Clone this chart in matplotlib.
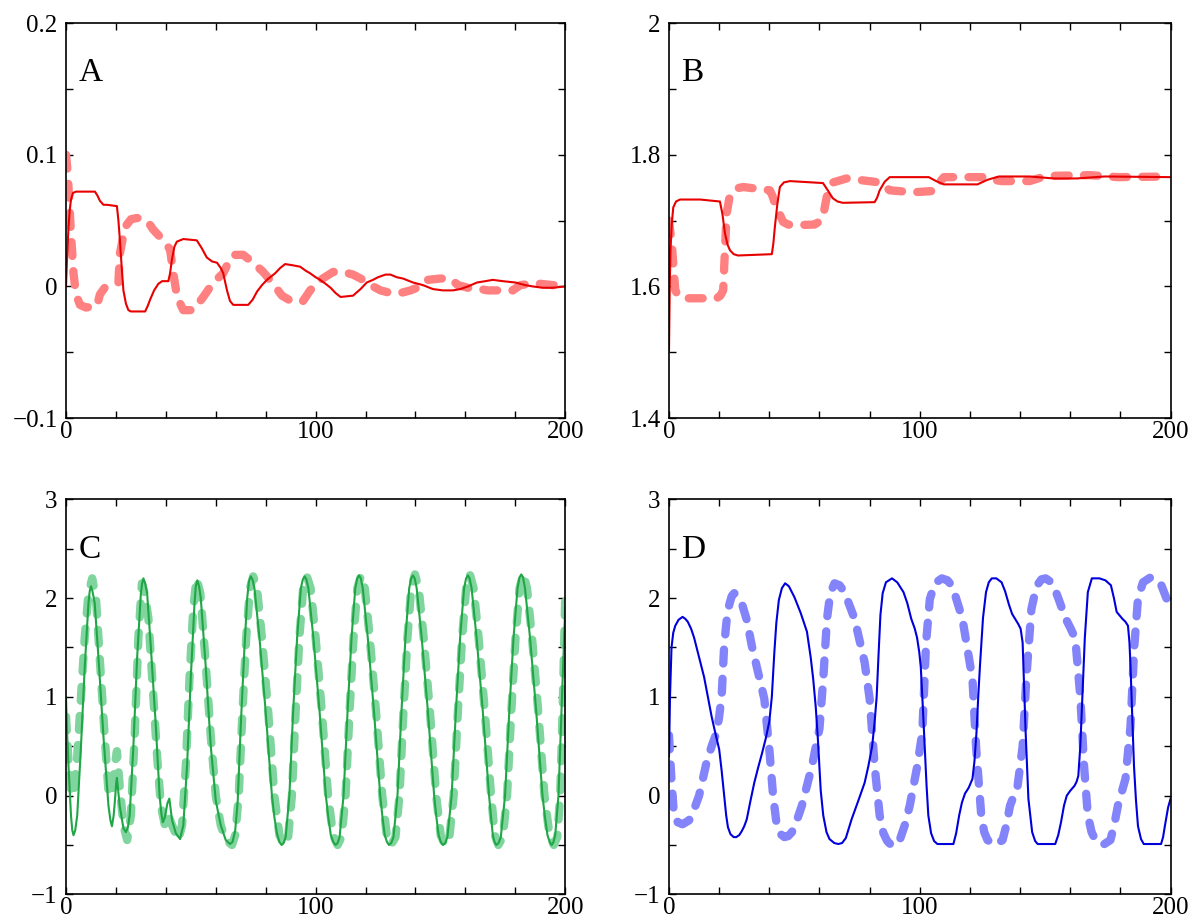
import numpy as np
import matplotlib
matplotlib.use("Agg")
import matplotlib.pyplot as plt
from matplotlib.ticker import MultipleLocator, FuncFormatter

plt.rcParams['font.family'] = ['Liberation Serif', 'DejaVu Serif']
plt.rcParams['lines.scale_dashes'] = False

# ---- panel A ----
tA_solid = [0, 0.5, 1, 1.5, 2, 2.8, 4, 11.6, 12.6, 13.6, 15, 16.4, 20.4, 21, 21.6, 22.3, 23, 24, 25,
            26, 31.7, 32.7, 33.7, 35.3, 37, 38.5, 41, 41.7, 42.4, 43.4, 44.4, 47, 52.4, 54.4, 56.4,
            58.5, 60.5, 62, 63, 64.5, 65.7, 67, 73, 74.8, 76.5, 78.5, 80.5, 83.8, 85.8, 87.8, 91,
            93.8, 96, 97.8, 100, 101.8, 104, 106, 108, 110, 115, 118, 120.5, 123, 125, 128, 130,
            132.5, 135, 139, 143, 147, 151, 155, 158, 161, 164.7, 168, 171, 175, 180, 184, 187, 191,
            195, 200]
vA_solid = [0.0, 0.025, 0.045, 0.058, 0.066, 0.071, 0.072, 0.072, 0.069, 0.065, 0.062, 0.062, 0.061,
            0.05, 0.035, 0.015, -0.003, -0.013, -0.018, -0.019, -0.019, -0.015, -0.010, -0.003,
            0.002, 0.004, 0.004, 0.01, 0.020, 0.03, 0.034, 0.036, 0.035, 0.029, 0.022, 0.019, 0.018,
            0.014, 0.010, -0.003, -0.011, -0.014, -0.014, -0.010, -0.004, 0.001, 0.005, 0.010,
            0.014, 0.017, 0.016, 0.015, 0.012, 0.010, 0.007, 0.005, 0.002, -0.001, -0.005, -0.008,
            -0.007, -0.002, 0.003, 0.005, 0.007, 0.009, 0.009, 0.007, 0.006, 0.003, 0.001, -0.002,
            -0.003, -0.003, -0.002, 0.0, 0.003, 0.004, 0.005, 0.004, 0.003, 0.001, 0.0, -0.001,
            -0.001, 0.0]
tA_dash = [0, 0.5, 1, 2, 3, 4, 5.6, 8, 12.4, 13.6, 15.5, 17.6, 21, 21.6, 23.6, 26, 28.5, 32.5, 35, 39,
           41.7, 43, 44.5, 47, 51, 55, 59, 63, 65, 67, 71, 75, 79, 83, 86.5, 91, 95, 97.8, 102, 107,
           111, 115, 119, 122, 126, 130, 134, 138, 142, 145, 150, 154, 157, 161, 166, 169, 174, 179,
           182, 186, 190, 195, 200]
vA_dash = [0.1, 0.09, 0.075, 0.04, 0.01, -0.006, -0.014, -0.016, -0.015, -0.006, -0.001, 0.001, 0.003,
           0.025, 0.045, 0.051, 0.052, 0.05, 0.043, 0.035, 0.028, 0.01, -0.008, -0.018, -0.018,
           -0.008, 0.003, 0.01, 0.018, 0.024, 0.024, 0.018, 0.011, 0.002, -0.007, -0.012, -0.011,
           -0.003, 0.005, 0.011, 0.011, 0.009, 0.005, 0.001, -0.003, -0.005, -0.005, -0.003, 0.0,
           0.005, 0.006, 0.006, 0.001, -0.001, -0.002, -0.003, -0.003, -0.003, 0.001, 0.002, 0.002,
           0.001, 0.001]

# ---- panel B ----
tB_solid = [0, 0.3, 0.6, 1.1, 1.7, 2.8, 4.4, 12.4, 20.3, 21.3, 22.3, 23.3, 24.3, 25.8, 27.5, 41, 41.6,
            42.2, 43.2, 44.2, 45.8, 48.2, 61.4, 63.3, 65.3, 67.2, 69.3, 82, 83, 84, 86, 88, 97.2,
            103.6, 106.5, 109.6, 123, 127, 131.5, 143.8, 153.4, 162.5, 173.7, 200]
vB_solid = [1.503, 1.6, 1.655, 1.695, 1.72, 1.729, 1.732, 1.732, 1.729, 1.71, 1.681, 1.664, 1.655,
            1.649, 1.647, 1.649, 1.665, 1.69, 1.725, 1.751, 1.758, 1.76, 1.757, 1.746, 1.734, 1.729,
            1.727, 1.728, 1.735, 1.746, 1.759, 1.766, 1.766, 1.766, 1.76, 1.755, 1.755, 1.762,
            1.767, 1.767, 1.764, 1.764, 1.767, 1.766]
tB_dash = [0, 0.6, 1.3, 2.5, 3.8, 5.6, 19, 20.5, 21.6, 22.3, 23, 24, 25, 27, 29.6, 40.2, 41.2, 42.2,
           45.5, 47.5, 49.5, 58, 60.2, 61.4, 62.9, 65.4, 70.8, 84, 86, 88, 97.2, 105.6, 107.6,
           109.6, 126, 129, 132.7, 143.8, 148, 153.4, 168, 179, 200]
vB_dash = [1.70, 1.68, 1.655, 1.594, 1.585, 1.582, 1.582, 1.586, 1.594, 1.655, 1.711, 1.733, 1.743,
           1.749, 1.751, 1.746, 1.738, 1.726, 1.698, 1.694, 1.693, 1.694, 1.699, 1.706, 1.736,
           1.758, 1.764, 1.758, 1.752, 1.746, 1.743, 1.745, 1.757, 1.766, 1.766, 1.762, 1.76, 1.76,
           1.765, 1.768, 1.769, 1.766, 1.767]

# ---- panel C ----
tC_solid = [0, 0.5, 1, 2, 2.5, 3, 3.7, 4.5, 6, 7.5, 9, 9.5, 10, 10.6, 11.5, 13, 15, 17, 17.8, 18.4,
            19.1, 19.6, 20.1, 20.4, 20.8, 21.5, 23, 24, 24.8, 25.5, 27, 28.5, 30, 30.5, 31, 31.7,
            32.5, 34, 36, 37.5, 38.2, 38.8, 39.6, 40.6, 41.4, 42, 42.5, 44, 45.7, 47, 48.5, 50, 51.5,
            52, 52.6, 53.3, 54, 56, 58, 60,
            62, 64, 65.7, 66.7, 67.8, 68.8, 70, 71.5, 72.6, 73.3, 74, 74.7, 75.5, 77.5, 80, 82.5,
            83.5, 84.5, 85.5, 86.4, 87.2, 88, 89.5, 91, 92.6, 94.1, 94.9, 95.6, 96.3, 97.1, 99.1,
            101.6, 104.1, 105.1, 106.1, 107.1, 108, 108.8, 109.6, 111.2, 112.8, 114.4, 115.9, 116.7,
            117.4, 118.1, 118.9, 120.9, 123.4, 125.9, 126.8, 127.7, 128.6, 129.4, 130.3, 131.2,
            132.8, 134.4, 136, 137.5, 138.3, 139, 139.7, 140.5, 142.5, 145, 147.5, 148.4, 149.3,
            150.2, 151, 151.9, 152.8, 154.5, 156.2, 157.9, 159.5, 160.3, 161, 161.7, 162.5, 164.5,
            167, 169.5, 170.3, 171, 171.7, 172.4, 173.3, 174.2, 175.9, 177.6, 179.3, 180.9, 181.7,
            182.4, 183.1, 183.9, 185.9, 188.4, 190.9, 191.9, 192.9, 193.8, 194.6, 195.3, 196, 197.3,
            198.6, 200]
vC_solid = [1.0, 0.6, 0.3, -0.2, -0.35, -0.4, -0.35, -0.2, 0.5, 1.3, 1.95, 2.07, 2.12, 2.07, 1.95,
            1.4, 0.6, -0.1, -0.25, -0.31, -0.2, -0.05, 0.12, 0.18, 0.08, -0.1, -0.33, -0.37, -0.32,
            -0.2, 0.5, 1.4, 2.05, 2.15, 2.2, 2.15, 2.05, 1.5, 0.7, 0.0, -0.18, -0.27, -0.22, -0.08,
            -0.03, -0.15, -0.25, -0.38, -0.44, -0.3, 0.3, 1.2, 1.95, 2.12, 2.18, 2.12, 2.0, 1.3, 0.5,
            -0.05,
            -0.3, -0.45, -0.49, -0.47, -0.35, -0.05, 0.7, 1.5, 2.0, 2.17, 2.22, 2.19, 2.1, 1.6, 0.85,
            0.0, -0.22, -0.38, -0.47, -0.5, -0.48, -0.42, 0.0, 0.85, 1.6, 2.1, 2.19, 2.22, 2.19, 2.1,
            1.6, 0.85, 0.0, -0.22, -0.4, -0.47, -0.5, -0.48, -0.42, 0.0, 0.85, 1.6, 2.1, 2.2, 2.23,
            2.2, 2.1, 1.6, 0.85, 0.0, -0.22, -0.4, -0.47, -0.5, -0.48, -0.42, 0.0, 0.85, 1.6, 2.1,
            2.2, 2.23, 2.2, 2.1, 1.6, 0.85, 0.0, -0.22, -0.4, -0.47, -0.5, -0.48, -0.42, 0.0, 0.85,
            1.6, 2.1, 2.2, 2.23, 2.2, 2.1, 1.6, 0.85, 0.0, -0.22, -0.4, -0.47, -0.5, -0.48, -0.42,
            0.0, 0.85, 1.6, 2.1, 2.21, 2.24, 2.21, 2.1, 1.6, 0.85, 0.0, -0.22, -0.4, -0.47, -0.5,
            -0.47, -0.4, 0.0, 0.9, 1.9]
tC_dash = [0, 1, 2, 3, 4.5, 6, 7.5, 9, 10.5, 12, 13.5, 15.5, 17, 18.5, 19.5, 20.4, 21.5, 23, 24.5,
           26, 27.5, 29, 30.4, 31.5, 33, 34.5, 36.5, 38, 39.6, 41, 42.5, 45, 46.5, 48, 49.5, 51,
           52.3, 53.8, 55.8, 58, 60, 62, 64, 66.5, 67.8, 69.2, 70.7, 72.2, 73.7, 75, 76.5, 78.5,
           81, 83.5, 85.5, 87.4, 89, 90.5, 92, 93.5, 95, 96.5, 98, 100, 102.5, 105, 107, 108.8,
           110.4, 112, 113.6, 115.2, 116.7, 118.2, 119.7, 121.7, 124.2, 126.7, 128.5, 130.2, 132,
           133.6, 135.2, 136.8, 138.3, 139.8, 141.3, 143.3, 145.8, 148.3, 150.1, 151.8, 153.6,
           155.3, 157, 158.7, 160.3, 161.8, 163.3, 165.3, 167.8, 170.3, 171.8, 173.2, 175, 176.7,
           178.4, 180.1, 181.7, 183.2, 184.7, 186.7, 189.2, 191.7, 193.7, 195.4, 196.8, 198, 199,
           200]
vC_dash = [0.8, 0.35, 0.05, 0.0, 0.4, 1.0, 1.6, 2.05, 2.2, 2.0, 1.4, 0.6, 0.05, 0.0, 0.3, 0.45, 0.1,
           -0.3, -0.45, -0.2, 0.6, 1.6, 2.15, 2.05, 1.8, 1.2, 0.4, -0.1, -0.3, -0.2, -0.3, -0.45,
           -0.3, 0.3, 1.2, 1.9, 2.2, 2.05, 1.4, 0.6, 0.0, -0.3, -0.45, -0.5, -0.4, 0.0, 0.85, 1.6,
           2.1, 2.22, 2.1, 1.6, 0.85, 0.0, -0.4, -0.5, -0.42, 0.0, 0.85, 1.6, 2.1, 2.22, 2.1, 1.6,
           0.85, 0.0, -0.4, -0.5, -0.42, 0.0, 0.85, 1.6, 2.1, 2.23, 2.1, 1.6, 0.85, 0.0, -0.4, -0.5,
           -0.42, 0.0, 0.85, 1.6, 2.1, 2.24, 2.1, 1.6, 0.85, 0.0, -0.4, -0.5, -0.42, 0.0, 0.85, 1.6,
           2.1, 2.24, 2.1, 1.6, 0.85, 0.0, -0.4, -0.5, -0.42, 0.0, 0.85, 1.6, 2.1, 2.25, 2.1, 1.6,
           0.85, 0.0, -0.4, -0.5, -0.42, 0.0, 0.9, 2.0]

# ---- panel D ----
tD_solid = [0, 0.4, 1, 1.7, 2.5, 3.8, 5.4, 6.5, 7.5, 8.8, 10, 12, 14, 15.5, 17, 18.5, 20, 21, 22, 22.8,
            23.5, 24.5, 25.8, 26.8, 28, 29, 30, 31, 32.5, 34, 35.5, 37, 38.5, 40, 41, 42, 42.8,
            43.8, 45, 46.3, 47.8, 50, 52.5, 55, 56.5, 57.5, 58.5, 59.3, 60.5, 61.5, 62.8, 64, 65.9,
            67.5, 69, 70.5, 72.8, 75.5, 78, 79.5, 81, 82, 82.8, 83.5, 84.3, 85.2, 86.5, 88.9, 91,
            93.5, 95, 96.6, 98, 98.9, 99.8, 100.4, 101.2, 102, 102.7, 103.4, 104.5, 105.7, 107,
            113.4, 114.5, 115.7, 116.8, 118, 119.5, 121, 121.8, 122.6, 123.3, 124, 125.2, 126.4,
            127.5, 128.7, 130.5, 132.6, 134, 135.6, 136.8, 138, 139.2, 140.2, 141, 141.6, 142.2,
            143.3, 144.8, 146, 147, 154, 155.2, 156.3, 157.5, 158.6, 160, 161.7, 162.5, 163.2, 164,
            164.8, 165.8, 167, 168.6, 171.6, 174, 176.2, 177.4, 178.5, 180.8, 182, 183, 183.6, 184,
            184.7, 185.4, 186.2, 187, 188.2, 189.3, 196.2, 197, 197.7, 199, 200]
vD_solid = [0.4, 1.0, 1.5, 1.65, 1.72, 1.78, 1.81, 1.79, 1.76, 1.69, 1.6, 1.4, 1.2, 1.0, 0.8, 0.63,
            0.47, 0.25, 0.0, -0.2, -0.32, -0.39, -0.42, -0.42, -0.4, -0.36, -0.31, -0.24, -0.05,
            0.13, 0.28, 0.42, 0.57, 0.75, 1.0, 1.45, 1.75, 1.98, 2.1, 2.15, 2.12, 2.01, 1.85, 1.66,
            1.4, 1.18, 0.9, 0.6, 0.05, -0.2, -0.37, -0.44, -0.48, -0.49, -0.48, -0.43, -0.24, -0.05,
            0.13, 0.3, 0.5, 0.75, 1.0, 1.4, 1.83, 2.05, 2.16, 2.2, 2.16, 2.06, 1.95, 1.79, 1.69,
            1.6, 1.45, 1.3, 0.9, 0.47, 0.1, -0.2, -0.38, -0.46, -0.49, -0.49, -0.38, -0.2, -0.07,
            0.02, 0.08, 0.17, 0.35, 0.64, 1.0, 1.32, 1.8, 2.06, 2.16, 2.2, 2.2, 2.16, 2.07, 1.93,
            1.84, 1.79, 1.74, 1.69, 1.55, 1.1, 0.64, -0.03, -0.37, -0.46, -0.49, -0.49, -0.4, -0.27,
            -0.1, 0.0, 0.05, 0.1, 0.14, 0.2, 0.5, 0.98, 1.6, 2.06, 2.2, 2.2, 2.18, 2.13, 2.0, 1.86,
            1.79, 1.76, 1.72, 1.55, 1.32, 0.8, 0.3, -0.05, -0.31, -0.44, -0.49, -0.49, -0.42, -0.31,
            -0.12, -0.03]
tD_dash = [0, 1, 2, 3.5, 5.4, 8, 10, 12, 15, 17, 19, 20, 21, 22, 23, 24, 25, 26, 27.5, 29, 31, 33,
           35.5, 38, 40, 41.5, 43, 44.5, 46, 47.5, 49, 51, 53, 57, 60, 61.5, 63, 64.3, 66, 68, 70,
           74, 78, 80, 82, 84, 85.5, 87, 89, 90.5, 92, 94, 96, 99, 101, 102.5, 104, 106, 108.8, 111,
           113, 117, 121, 122.5, 124.5, 125.7, 127, 130, 133, 134.5, 136, 139, 141, 142.5, 144.5,
           146.5, 148.5, 150.2, 153, 155.5, 158, 160, 162, 164, 165.5, 167, 168.5, 170, 173, 176,
           177.5, 179, 182, 184, 185.5, 187, 189, 192, 194, 196, 198, 200]
vD_dash = [0.61, 0.15, -0.2, -0.27, -0.29, -0.25, -0.14, 0.0, 0.34, 0.5, 0.64, 0.8, 1.01, 1.52, 1.78,
           1.93, 2.02, 2.05, 2.02, 1.95, 1.78, 1.52, 1.25, 0.98, 0.47, 0.0, -0.31, -0.39, -0.42,
           -0.41, -0.37, -0.25, -0.1, 0.3, 0.68, 1.18, 1.79, 2.05, 2.15, 2.13, 2.06, 1.79, 1.35,
           0.98, 0.3, -0.2, -0.38, -0.46, -0.51, -0.5, -0.45, -0.3, -0.1, 0.3, 0.64, 1.55, 1.99,
           2.15, 2.2, 2.18, 2.12, 1.79, 1.18, 0.47, -0.2, -0.37, -0.45, -0.5, -0.45, -0.3, -0.1,
           0.1, 0.5, 1.2, 1.89, 2.12, 2.19, 2.2, 2.15, 1.98, 1.8, 1.7, 1.59, 1.0, 0.3, -0.2, -0.37,
           -0.45, -0.5, -0.45, -0.3, -0.1, 0.17, 0.7, 1.5, 2.0, 2.16, 2.21, 2.2, 2.15, 2.02, 1.89]

panels = [
    ("A", tA_solid, vA_solid, tA_dash, vA_dash, "#e80000", "#ff8080", (-0.1, 0.2), 0.05, 0.1),
    ("B", tB_solid, vB_solid, tB_dash, vB_dash, "#e80000", "#ff8080", (1.4, 2.0), 0.1, 0.2),
    ("C", tC_solid, vC_solid, tC_dash, vC_dash, "#1fa645", "#80d49d", (-1, 3), 0.5, 1.0),
    ("D", tD_solid, vD_solid, tD_dash, vD_dash, "#0000dd", "#8484fa", (-1, 3), 0.5, 1.0),
]

boxes = [[0.055, 0.547, 0.416, 0.428], [0.5575, 0.547, 0.418, 0.428],
         [0.055, 0.031, 0.416, 0.428], [0.5575, 0.031, 0.418, 0.428]]


def label_every(step):
    def fmt(v, pos):
        k = v / step
        if abs(k - round(k)) > 1e-6:
            return ""
        s = "%g" % round(v, 6)
        if s == "-0":
            s = "0"
        return s.replace("-", "\u2212")
    return FuncFormatter(fmt)


fig = plt.figure(figsize=(12, 9.23), dpi=100)
for (name, ts, vs, td, vd, c_solid, c_dash, ylim, ystep, ylab), box in zip(panels, boxes):
    ax = fig.add_axes(box)
    ax.plot(td, vd, color=c_dash, lw=6, dashes=(10, 11), dash_capstyle='round',
            solid_capstyle='round', dash_joinstyle='round')
    ax.plot(ts, vs, color=c_solid, lw=1.5, solid_joinstyle='round')
    ax.set_xlim(0, 200)
    ax.set_ylim(*ylim)
    ax.xaxis.set_major_locator(MultipleLocator(20))
    ax.xaxis.set_major_formatter(label_every(100))
    ax.yaxis.set_major_locator(MultipleLocator(ystep))
    ax.yaxis.set_major_formatter(label_every(ylab))
    ax.tick_params(direction='in', top=True, right=True, length=5, width=1, labelsize=18)
    ax.tick_params(axis='x', pad=2)
    ax.tick_params(axis='y', pad=6)
    for sp in ax.spines.values():
        sp.set_linewidth(1.2)
    ax.text(0.025, 0.912, name, transform=ax.transAxes, fontsize=24, va='top', ha='left')

fig.savefig("out.png", dpi=100)
